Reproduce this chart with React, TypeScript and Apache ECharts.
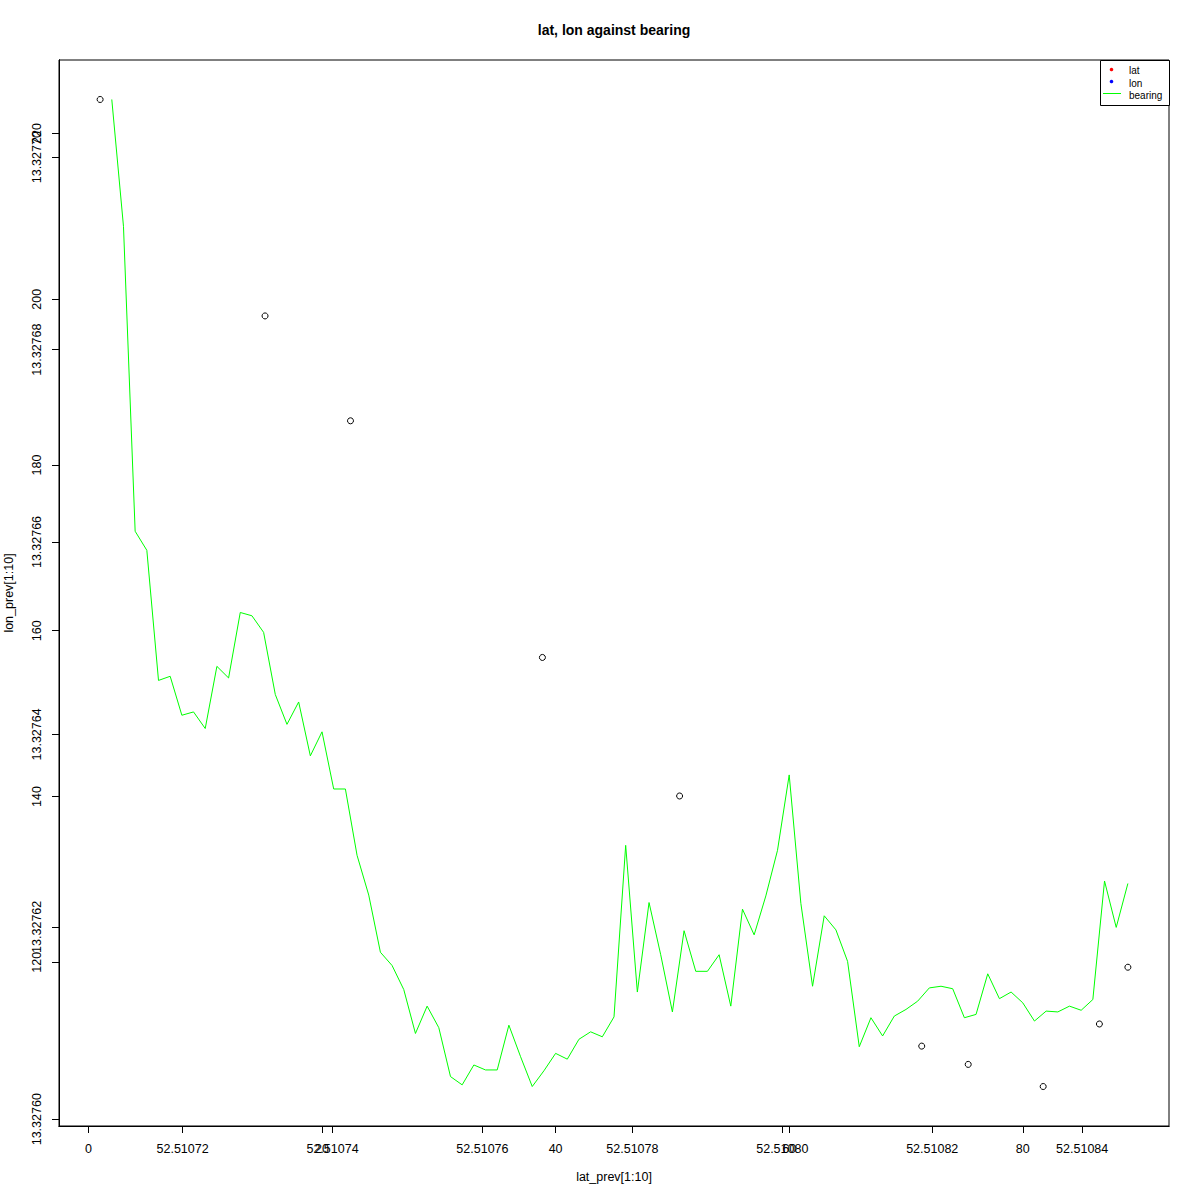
import React, { useEffect, useRef } from "react";
import * as echarts from "echarts";

// ---- Data ----
const latPrev = [
  52.510709, 52.510731, 52.5107424, 52.510768, 52.5107863,
  52.5108186, 52.5108248, 52.5108348, 52.5108423, 52.5108461,
];
const lonPrev = [
  13.327706, 13.3276835, 13.3276726, 13.327648, 13.3276336,
  13.3276076, 13.3276057, 13.3276034, 13.3276099, 13.3276158,
];
// bearing[0] is NA (first bearing undefined)
const bearing: (number | null)[] = [
  null, 224.1, 208.8, 172.0, 169.7, 154.0, 154.5, 149.8, 150.2, 148.2,
  155.7, 154.3, 162.2, 161.8, 159.8, 152.3, 148.7, 151.4, 144.9, 147.8,
  140.9, 140.9, 132.9, 128.1, 121.2, 119.6, 116.7, 111.4, 114.7, 112.1,
  106.2, 105.2, 107.6, 107.0, 107.0, 112.4, 108.6, 105.0, 106.9, 109.0,
  108.3, 110.7, 111.6, 111.0, 113.4, 134.1, 116.4, 127.2, 120.9, 114.0,
  123.8, 118.9, 118.9, 120.9, 114.7, 126.4, 123.3, 128.0, 133.5, 142.6,
  127.1, 117.1, 125.6, 123.9, 120.1, 109.8, 113.3, 111.1, 113.5, 114.3,
  115.3, 116.9, 117.1, 116.8, 113.3, 113.7, 118.6, 115.6, 116.4, 115.1,
  112.9, 114.1, 114.0, 114.7, 114.2, 115.5, 129.8, 124.2, 129.5,
];

const latTicks = [52.51072, 52.51074, 52.51076, 52.51078, 52.5108, 52.51082, 52.51084];
const indexTicks = [0, 20, 40, 60, 80];
const lonTicks = [13.3276, 13.32762, 13.32764, 13.32766, 13.32768, 13.3277];
const bearingTicks = [120, 140, 160, 180, 200, 220];

const legendLabels = ["lat", "lon", "bearing"];
const legendColors = ["#FF0000", "#0000FF", "#00FF00"];

const FONT = "'Liberation Sans', Arial, sans-serif";

function padRange(vals: number[]): [number, number] {
  const lo = Math.min(...vals);
  const hi = Math.max(...vals);
  const d = (hi - lo) * 0.04;
  return [lo - d, hi + d];
}

export default function App() {
  const ref = useRef<HTMLDivElement>(null);

  useEffect(() => {
    document.body.style.margin = "0";
    if (!ref.current) return;
    const chart = echarts.init(ref.current, undefined, { renderer: "svg" });

    const indices = bearing.map((_, i) => i + 1);
    const [latMin, latMax] = padRange(latPrev);
    const [lonMin, lonMax] = padRange(lonPrev);
    const [idxMin, idxMax] = padRange(indices);
    const validBearing = bearing.filter((b) => b !== null) as number[];
    const [bMin, bMax] = padRange(validBearing);

    const labelStyle = { color: "#000", fontSize: 12.5, fontFamily: FONT };
    const tickStyle = { show: true, inside: false, length: 7, lineStyle: { color: "#000", width: 1 } };
    const lineStyle = { show: true, onZero: false, lineStyle: { color: "#000", width: 1 } };

    const scatterData = latPrev.map((la, i) => [la, lonPrev[i]]);
    const lineData = bearing
      .map((b, i) => [i + 1, b])
      .filter((d) => d[1] !== null);

    const legendX = 1100;
    const legendY = 60;

    chart.setOption({
      animation: false,
      backgroundColor: "#fff",
      title: {
        text: "lat, lon against bearing",
        left: 614,
        top: 23,
        padding: 0,
        textAlign: "center",
        textStyle: { fontSize: 14, fontWeight: "bold", color: "#000", fontFamily: FONT },
      },
      grid: {
        left: 59,
        top: 60,
        right: 31,
        bottom: 74,
        outerBoundsMode: "none",
        containLabel: false,
        show: true,
        borderColor: "#000",
        borderWidth: 1,
        backgroundColor: "transparent",
      },
      xAxis: [
        {
          type: "value",
          position: "bottom",
          min: latMin,
          max: latMax,
          axisLine: lineStyle,
          axisTick: { ...tickStyle, customValues: latTicks },
          axisLabel: {
            ...labelStyle,
            margin: 16,
            customValues: latTicks,
            formatter: (v: number) => v.toFixed(5),
          },
          splitLine: { show: false },
          name: "lat_prev[1:10]",
          nameLocation: "middle",
          nameGap: 44,
          nameTextStyle: { ...labelStyle },
        },
        {
          type: "value",
          position: "bottom",
          offset: 0,
          min: idxMin,
          max: idxMax,
          axisLine: lineStyle,
          axisTick: { ...tickStyle, customValues: indexTicks },
          axisLabel: {
            ...labelStyle,
            margin: 16,
            customValues: indexTicks,
            formatter: (v: number) => String(Math.round(v)),
          },
          splitLine: { show: false },
        },
      ],
      yAxis: [
        {
          type: "value",
          position: "left",
          min: lonMin,
          max: lonMax,
          axisLine: lineStyle,
          axisTick: { ...tickStyle, customValues: lonTicks },
          axisLabel: {
            ...labelStyle,
            margin: 16,
            rotate: 90,
            customValues: lonTicks,
            formatter: (v: number) => v.toFixed(5),
          },
          splitLine: { show: false },
          name: "lon_prev[1:10]",
          nameLocation: "middle",
          nameGap: 44,
          nameTextStyle: { ...labelStyle },
        },
        {
          type: "value",
          position: "left",
          offset: 0,
          min: bMin,
          max: bMax,
          axisLine: lineStyle,
          axisTick: { ...tickStyle, customValues: bearingTicks },
          axisLabel: {
            ...labelStyle,
            margin: 16,
            rotate: 90,
            customValues: bearingTicks,
            formatter: (v: number) => String(Math.round(v)),
          },
          splitLine: { show: false },
        },
      ],
      series: [
        {
          name: "points",
          type: "scatter",
          xAxisIndex: 0,
          yAxisIndex: 0,
          data: scatterData,
          symbol: "circle",
          symbolSize: 6,
          itemStyle: { color: "rgba(0,0,0,0)", borderColor: "#000", borderWidth: 1, opacity: 1 },
          silent: true,
        },
        {
          name: "bearing",
          type: "line",
          xAxisIndex: 1,
          yAxisIndex: 1,
          data: lineData,
          showSymbol: false,
          symbol: "none",
          lineStyle: { color: "#00FF00", width: 1 },
          silent: true,
        },
      ],
      graphic: [
        {
          type: "rect",
          shape: { x: legendX + 0.5, y: legendY + 0.5, width: 69, height: 45 },
          style: { fill: "#fff", stroke: "#000", lineWidth: 1 },
          z: 100,
        },
        {
          type: "circle",
          shape: { cx: legendX + 11.5, cy: legendY + 9.5, r: 1.8 },
          style: { fill: legendColors[0] },
          z: 101,
        },
        {
          type: "circle",
          shape: { cx: legendX + 11.5, cy: legendY + 21.5, r: 1.8 },
          style: { fill: legendColors[1] },
          z: 101,
        },
        {
          type: "line",
          shape: { x1: legendX + 3, y1: legendY + 33.5, x2: legendX + 21, y2: legendY + 33.5 },
          style: { stroke: legendColors[2], lineWidth: 1 },
          z: 101,
        },
        ...legendLabels.map((t, i) => ({
          type: "text",
          x: legendX + 29,
          y: legendY + 10.5 + i * 12.5,
          style: {
            text: t,
            fill: "#000",
            font: `10px ${FONT}`,
            textVerticalAlign: "middle",
            verticalAlign: "middle",
          },
          z: 101,
        })),
      ],
    });

    return () => chart.dispose();
  }, []);

  return <div ref={ref} style={{ width: 1200, height: 1200 }} />;
}
